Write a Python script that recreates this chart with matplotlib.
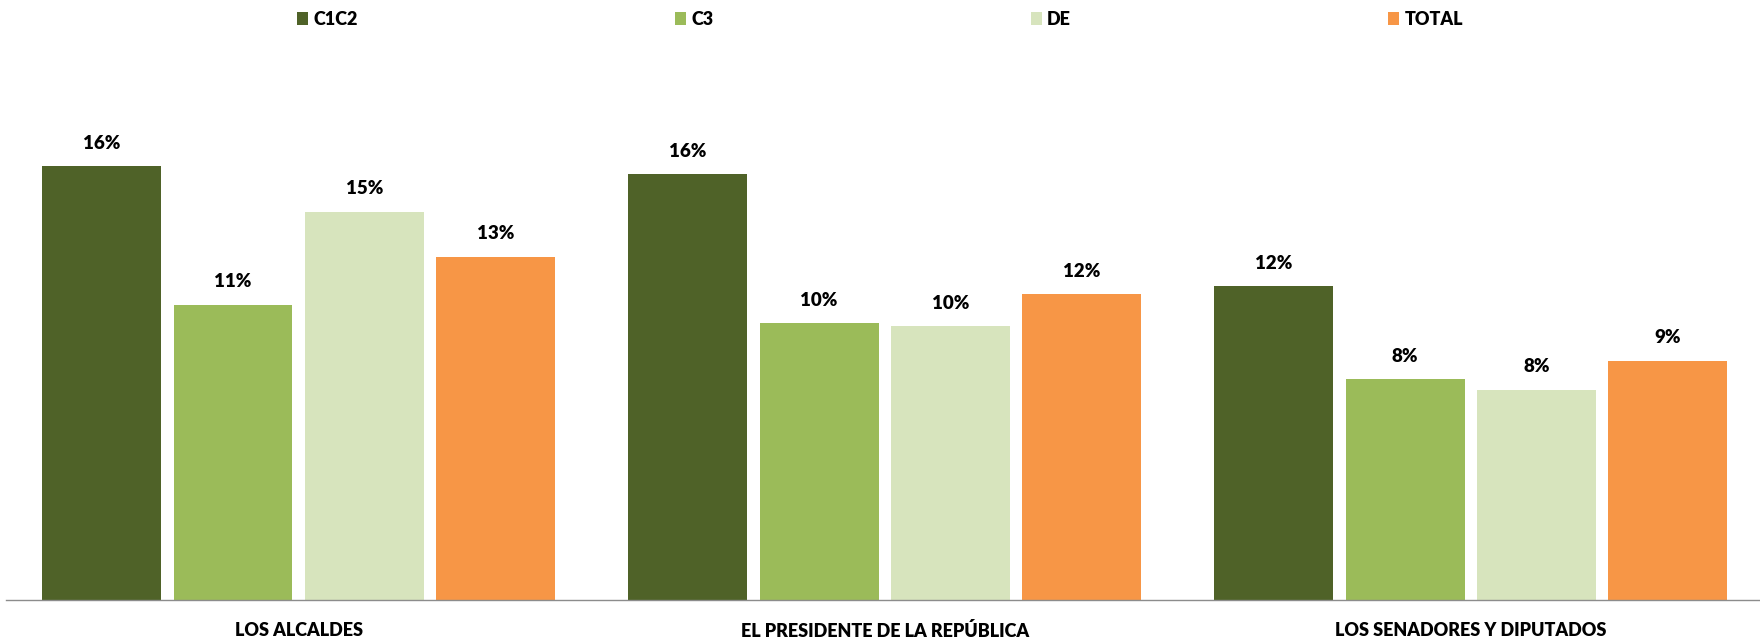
import matplotlib
matplotlib.use("Agg")
import matplotlib.pyplot as plt
from matplotlib.patches import Patch
import numpy as np

categories = ["LOS ALCALDES", "EL PRESIDENTE DE LA REPÚBLICA", "LOS SENADORES Y DIPUTADOS"]
series_names = ["C1C2", "C3", "DE", "TOTAL"]
c1c2 = [16.3, 16.0, 11.8]
c3 = [11.1, 10.4, 8.3]
de = [14.6, 10.3, 7.9]
total = [12.9, 11.5, 9.0]
series_colors = ["#4F6228", "#9BBB59", "#D7E4BD", "#F79646"]

plt.rcParams["font.family"] = ["Lato", "DejaVu Sans"]
plt.rcParams["font.weight"] = "heavy"

fig = plt.figure(figsize=(17.6, 6.4), dpi=100)
ax = fig.add_axes([0.0032, 0.0625, 0.9989, 0.83125])

x = np.arange(len(categories))
bar_width = 0.203
step = 0.224
all_series = [c1c2, c3, de, total]
for i, (name, values, color) in enumerate(zip(series_names, all_series, series_colors)):
    offset = (i - 1.5) * step
    bars = ax.bar(x + offset, values, width=bar_width, color=color, label=name)
    for bar, value in zip(bars, values):
        ax.annotate(
            f"{value:.0f}%",
            xy=(bar.get_x() + bar.get_width() / 2, bar.get_height()),
            xytext=(0, 16.5),
            textcoords="offset points",
            ha="center",
            va="center",
            fontsize=13.5,
            fontweight="heavy",
            color="#000000",
        )

ax.set_xlim(-0.5, 2.5)
ax.set_ylim(0, 20)
ax.set_xticks(x)
ax.set_xticklabels(categories, fontsize=13, fontweight="heavy")
ax.tick_params(axis="x", length=0, pad=16)
ax.set_yticks([])
for side in ["top", "right", "left"]:
    ax.spines[side].set_visible(False)
ax.spines["bottom"].set_color("#8C8C8C")
ax.spines["bottom"].set_linewidth(1.0)

handles = [Patch(facecolor=c, edgecolor="none") for c in series_colors]
fig.legend(
    handles,
    series_names,
    loc="center",
    bbox_to_anchor=(297 / 1760, 0.955, (1463 - 297) / 1760, 0.03),
    mode="expand",
    ncol=4,
    frameon=False,
    handlelength=0.62,
    handleheight=0.68,
    handletextpad=0.28,
    borderpad=0,
    borderaxespad=0,
    prop={"weight": "heavy", "size": 13},
)

fig.savefig("out.png", dpi=100)
plt.close(fig)
